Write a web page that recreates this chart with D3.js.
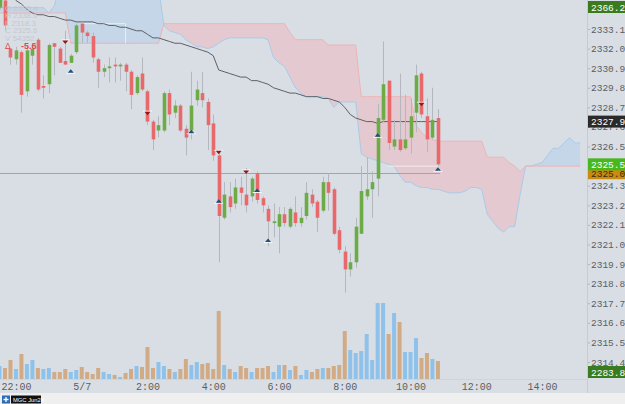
<!DOCTYPE html>
<html><head><meta charset="utf-8">
<script src="https://cdn.jsdelivr.net/npm/d3@7"></script>
<style>html,body{margin:0;padding:0;background:#d9dee5;overflow:hidden}svg{display:block}</style>
</head><body>
<svg id="chart" width="625" height="404"></svg>
<script>
// ---------- DATA ----------
const firstBar = new Date(2024, 4, 6, 21, 30); // 10-minute bars
const barMinutes = 10;
const candleOpen = [2334.3,2334.7,2332.0,2331.4,2331.8,2329.6,2331.6,2332.5,2329.9,2330.0,
  2332.3,2332.0,2331.3,2331.2,2331.8,2333.4,2332.9,2332.7,2331.4,2330.7,
  2330.9,2331.1,2331.0,2331.1,2330.7,2329.5,2330.6,2329.6,2327.9,2327.4,
  2327.4,2329.5,2328.4,2328.8,2327.5,2327.4,2329.1,2329.5,2329.0,2327.8,
  2326.0,2322.5,2323.7,2323.3,2324.2,2323.8,2323.7,2325.0,2323.6,2323.0,
  2322.2,2322.0,2322.7,2322.0,2322.8,2322.2,2322.6,2323.8,2323.4,2322.9,
  2324.5,2324.1,2321.8,2320.6,2319.6,2320.0,2321.6,2323.7,2324.1,2324.7,
  2328.0,2330.2,2326.5,2326.9,2326.4,2327.0,2328.4,2330.6,2328.2,2327.0,2328.1];
const candleHigh = [2335.1,2334.8,2332.0,2332.1,2331.9,2332.1,2332.3,2332.6,2330.5,2332.3,
  2332.3,2332.1,2333.0,2331.7,2333.4,2333.5,2333.0,2332.9,2331.5,2331.1,
  2331.5,2331.5,2331.2,2331.2,2330.8,2330.5,2331.5,2329.7,2328.0,2328.2,
  2329.6,2329.7,2329.1,2328.9,2327.7,2330.7,2330.2,2330.7,2329.2,2328.3,
  2326.3,2324.5,2324.5,2324.7,2324.8,2325.3,2324.8,2325.1,2323.7,2323.2,
  2323.3,2323.1,2323.1,2323.1,2323.7,2323.1,2324.5,2324.1,2323.5,2324.8,
  2325.0,2324.2,2322.0,2320.9,2320.5,2322.5,2325.4,2325.9,2325.1,2328.9,
  2332.4,2330.2,2328.0,2330.6,2329.4,2329.2,2331.1,2330.7,2329.2,2329.8,2328.6];
const candleLow = [2334.2,2333.0,2331.1,2331.1,2328.4,2329.3,2331.1,2329.6,2329.2,2329.5,
  2330.5,2331.2,2331.1,2331.2,2331.7,2332.3,2332.3,2331.2,2329.8,2330.4,
  2330.1,2330.1,2330.2,2329.6,2328.6,2329.4,2329.6,2327.7,2326.3,2327.0,
  2327.3,2327.7,2328.1,2327.3,2326.0,2326.9,2328.8,2328.7,2326.3,2325.7,
  2320.0,2322.4,2322.8,2323.0,2323.2,2322.8,2323.4,2323.3,2322.8,2320.9,
  2321.4,2320.5,2322.0,2321.9,2322.0,2322.0,2322.4,2323.1,2321.7,2322.8,
  2322.9,2321.5,2320.5,2318.3,2319.2,2319.7,2321.6,2323.5,2322.5,2323.7,
  2327.9,2326.3,2326.3,2326.2,2326.3,2326.1,2327.3,2328.1,2326.2,2326.9,2325.4];
const candleClose = [2334.9,2333.3,2331.5,2331.9,2329.4,2331.9,2332.0,2329.7,2329.8,2332.2,
  2332.1,2331.2,2331.1,2331.6,2333.3,2332.9,2332.7,2331.5,2330.7,2330.9,
  2331.0,2331.0,2331.1,2330.7,2329.4,2330.4,2329.7,2327.9,2326.9,2327.7,
  2329.5,2328.3,2328.8,2327.4,2327.0,2328.8,2329.7,2329.1,2327.7,2326.0,
  2322.6,2323.8,2323.1,2324.2,2323.9,2323.2,2324.7,2323.5,2323.2,2322.3,
  2322.3,2322.7,2322.2,2323.0,2322.2,2322.5,2323.9,2323.3,2322.5,2324.5,
  2323.9,2321.6,2320.7,2319.6,2320.0,2322.0,2324.0,2324.1,2324.5,2328.1,
  2330.0,2326.7,2326.9,2326.3,2326.9,2328.2,2330.5,2328.3,2326.9,2328.0,2325.5];
const volume = [130,110,190,100,250,150,190,110,100,110,
  70,70,100,70,90,120,70,50,110,70,
  50,40,20,60,100,130,120,320,110,170,
  130,100,70,100,200,140,170,150,160,100,
  680,140,100,70,130,110,70,110,110,130,
  70,140,140,90,130,40,90,70,100,110,
  110,130,140,480,290,260,280,450,190,760,
  760,450,660,570,270,270,410,210,260,200,180];
const volumeSide = ["b","t","t","b","t","b","b","t","b","b",
  "t","t","t","b","b","t","t","t","t","b",
  "b","t","b","t","t","b","t","t","t","b",
  "b","t","b","t","t","b","b","t","t","t",
  "t","b","t","b","t","t","b","t","t","t",
  "b","b","t","b","t","b","b","t","t","b",
  "t","t","t","t","b","b","b","b","b","b",
  "b","t","b","t","b","b","b","t","t","b","t"];
// Ichimoku leading spans (26 bars ahead -> 107 points)
const leadingSpanA = [2334.3,2334.3,2334.3,2334.3,2334.3,2334.3,2334.3,2334.3,2334.3,2334.0,
  2334.4,2335.5,2335.5,2335.5,2335.5,2335.5,2335.5,2335.5,2335.5,2335.5,
  2335.5,2335.5,2335.5,2335.5,2335.5,2335.5,2335.5,2335.5,2335.5,2335.5,
  2333.3,2333.0,2332.9,2332.8,2332.5,2332.3,2332.1,2332.1,2332.0,2332.1,
  2332.3,2332.5,2332.6,2332.6,2332.6,2332.6,2332.6,2332.6,2332.6,2332.5,
  2331.5,2331.2,2331.0,2330.4,2329.8,2329.5,2329.3,2329.3,2329.3,2329.3,
  2329.2,2328.7,2329.0,2329.0,2329.0,2329.0,2326.1,2325.9,2325.8,2325.7,
  2325.6,2325.5,2325.4,2324.9,2324.5,2324.5,2324.3,2324.2,2324.2,2324.1,
  2324.1,2324.0,2323.9,2323.9,2323.9,2324.0,2324.2,2324.2,2324.1,2322.7,
  2322.3,2321.9,2321.7,2322.0,2322.0,2323.8,2325.4,2325.4,2325.5,2325.6,
  2326.0,2326.4,2326.4,2326.7,2327.0,2326.7,2326.7];
const leadingSpanB = [2334.0,2334.0,2334.0,2334.0,2334.0,2334.0,2334.0,2334.0,2334.0,2334.0,
  2334.0,2334.0,2334.0,2332.3,2332.3,2332.3,2332.3,2332.3,2332.3,2332.3,
  2332.3,2332.3,2332.3,2332.3,2332.3,2332.3,2332.3,2332.3,2332.3,2332.3,
  2333.4,2333.4,2333.4,2333.4,2333.4,2333.4,2333.4,2333.4,2333.4,2333.4,
  2333.4,2333.4,2333.4,2333.4,2333.4,2333.4,2333.4,2333.4,2333.4,2333.4,
  2333.4,2333.4,2333.4,2332.9,2332.5,2332.5,2332.5,2332.5,2332.5,2332.5,
  2332.2,2332.2,2332.2,2332.2,2332.2,2332.2,2329.3,2329.3,2329.3,2329.3,
  2329.3,2329.3,2329.3,2329.3,2329.3,2329.3,2327.7,2327.3,2327.0,2326.9,
  2326.8,2326.8,2326.8,2326.8,2326.8,2326.8,2326.8,2326.8,2326.8,2325.9,
  2325.9,2325.9,2325.9,2325.6,2325.4,2325.1,2325.4,2325.4,2325.4,2325.4,
  2325.4,2325.4,2325.4,2325.4,2325.4,2325.4,2325.4];
const baseLine = [2335.7,2335.4,2335.1,2334.7,2334.5,2334.2,2334.0,2333.9,2333.9,2333.8,
  2333.8,2333.7,2333.6,2333.6,2333.5,2333.5,2333.5,2333.5,2333.4,2333.4,
  2333.3,2333.3,2333.2,2333.2,2333.1,2333.0,2333.0,2332.8,2332.6,2332.6,
  2332.5,2332.4,2332.3,2332.3,2332.2,2332.1,2332.0,2331.9,2331.8,2331.6,
  2330.8,2330.7,2330.6,2330.5,2330.4,2330.4,2330.2,2330.2,2330.1,2330.0,
  2329.8,2329.7,2329.6,2329.5,2329.5,2329.4,2329.3,2329.3,2329.3,2329.2,
  2329.2,2329.1,2329.0,2328.7,2328.3,2328.1,2328.0,2327.9,2327.9,2327.8,
  2327.9,2327.9,2327.9,2327.9,2327.9,2327.9,2327.9,2327.9,2327.9,2327.9,2327.9];
const conversionLine = [null,null,null,null,null,null,null,null,null,null,
  null,null,null,null,null,2333.4,2333.4,2333.4,2333.4,2333.4,
  2333.4,2333.4,2333.4,2332.3,null,null,null,null,null,null,
  null,null,null,null,null,null,null,null,null,null,
  null,null,null,null,null,null,null,null,null,null,
  null,null,null,null,null,null,null,null,null,null,
  null,null,null,null,null,null,null,null,null,null,
  null,2325.4,2325.4,2325.4,2325.4,2325.4,2325.4,2325.4,2325.4,2325.4,2325.4];
const sellSignalBars = [12, 27, 40, 45, 77];
const sellSignalPrices = [2332.4, 2328.4, 2326.2, 2325.1, 2328.9];
const buySignalBars = [13, 35, 40, 47, 49, 69, 80];
const buySignalPrices = [2330.7, 2327.3, 2323.4, 2324.0, 2321.2, 2327.1, 2325.2];
const referencePrice = 2325.0;
const priceTicks = [2333.1,2332.0,2330.9,2329.8,2328.7,2327.6,2326.5,2325.4,2324.3,2323.2,
  2322.1,2321.0,2319.9,2318.8,2317.7,2316.6,2315.5,2314.4];
const timeTickHours = [22, 24, 26, 28, 30, 32, 34, 36, 38];
const timeTickLabels = ["22:00","5/7","2:00","4:00","6:00","8:00","10:00","12:00","14:00"];
const flagValues = [2366.2, 2327.9, 2325.0, 2325.5, 2283.8];
const flagColors = ["#3a7b20", "#2a2a2a", "#c98b10", "#47b81e", "#3a7b20"];
const flagText = ["#ffffff", "#ffffff", "#3a2a10", "#ffffff", "#ffffff"];
const legendLabels = ["O", "H", "L", "C", "V"];
const legendValues = ["2335.4", "2338.6", "2318.3", "2325.6", "54352"];
const changeValue = "-5.6";
const symbolName = "MGC Jun24";

// ---------- SCALES ----------
const svg = d3.select("#chart");
const W = 625, H = 404, axisX = 588, plotBottom = 379;
const tOf = i => new Date(firstBar.getTime() + i * barMinutes * 60000);
const x = d3.scaleTime().domain([tOf(0), tOf(106)]).range([-0.47, 580.4]);
const xi = i => x(tOf(i));
const y = d3.scaleLinear().domain([2314.4, 2333.1]).range([362, 29]);
const yv = d3.scaleLinear().domain([0, 800]).range([plotBottom, 299]);

svg.append("rect").attr("width", W).attr("height", H).attr("fill", "#d9dee5");
const defs = svg.append("defs");
defs.append("clipPath").attr("id", "plot").append("rect")
  .attr("x", 0).attr("y", 0).attr("width", axisX).attr("height", plotBottom);

const cloudIdx = d3.range(leadingSpanA.length);
defs.append("clipPath").attr("id", "aboveB").append("path")
  .attr("d", d3.area().x(i => xi(i)).y0(-500).y1(i => y(leadingSpanB[i]))(cloudIdx));
defs.append("clipPath").attr("id", "belowB").append("path")
  .attr("d", d3.area().x(i => xi(i)).y0(i => y(leadingSpanB[i])).y1(1000)(cloudIdx));

const plot = svg.append("g").attr("clip-path", "url(#plot)");

// Cloud
const band = d3.area().x(i => xi(i)).y0(i => y(leadingSpanA[i])).y1(i => y(leadingSpanB[i]));
plot.append("g").attr("clip-path", "url(#aboveB)").append("path")
  .attr("d", band(cloudIdx)).attr("fill", "#c4d6e7");
plot.append("g").attr("clip-path", "url(#belowB)").append("path")
  .attr("d", band(cloudIdx)).attr("fill", "#e4cad0");
plot.append("path").attr("d", d3.line().x(i => xi(i)).y(i => y(leadingSpanA[i]))(cloudIdx))
  .attr("fill", "none").attr("stroke", "#a9cbe8").attr("stroke-width", 1);
plot.append("path").attr("d", d3.line().x(i => xi(i)).y(i => y(leadingSpanB[i]))(cloudIdx))
  .attr("fill", "none").attr("stroke", "#eeb3b5").attr("stroke-width", 1);

const barIdx = d3.range(candleOpen.length);

// reference price line
plot.append("line").attr("x1", 0).attr("x2", xi(barIdx.length - 1) + 2)
  .attr("y1", Math.round(y(referencePrice)) + 0.5).attr("y2", Math.round(y(referencePrice)) + 0.5)
  .attr("stroke", "#b9a470").attr("stroke-width", 1);

// conversion line (light)
plot.append("path")
  .attr("d", d3.line().defined(i => conversionLine[i] !== null).curve(d3.curveStepAfter)
    .x(i => xi(i)).y(i => y(conversionLine[i]))(barIdx))
  .attr("fill", "none").attr("stroke", "#f3f5f8").attr("stroke-width", 1).attr("opacity", 0.8);

// base line
plot.append("path").attr("d", d3.line().x(i => xi(i)).y(i => y(baseLine[i]))(barIdx))
  .attr("fill", "none").attr("stroke", "#5c6066").attr("stroke-width", 1);

// volume
plot.selectAll(".vol").data(barIdx).join("rect")
  .attr("x", i => xi(i) - 2).attr("width", 4)
  .attr("y", i => yv(volume[i])).attr("height", i => plotBottom - yv(volume[i]))
  .attr("fill", i => volumeSide[i] === "b" ? "#8fc2ea" : "#d0ab86");

// candles
const up = "#6cab45", down = "#e8696c";
plot.selectAll(".wick").data(barIdx).join("line")
  .attr("x1", i => Math.round(xi(i)) + 0.5).attr("x2", i => Math.round(xi(i)) + 0.5)
  .attr("y1", i => y(candleHigh[i])).attr("y2", i => y(candleLow[i]))
  .attr("stroke", "#b3b8bf").attr("stroke-width", 1);
plot.selectAll(".body").data(barIdx).join("rect")
  .attr("x", i => Math.round(xi(i)) - 1.3).attr("width", 3.6)
  .attr("y", i => y(Math.max(candleOpen[i], candleClose[i])))
  .attr("height", i => Math.max(1, Math.abs(y(candleOpen[i]) - y(candleClose[i]))))
  .attr("fill", i => candleClose[i] >= candleOpen[i] ? up : down);

// signal markers
sellSignalBars.forEach((b, k) => {
  const cx = xi(b), cy = y(sellSignalPrices[k]);
  plot.append("line").attr("x1", cx - 4.5).attr("x2", cx + 4.5).attr("y1", cy - 1.5).attr("y2", cy - 1.5)
    .attr("stroke", "#ffffff").attr("stroke-width", 1).attr("opacity", 0.9);
  plot.append("path").attr("d", `M${cx - 3},${cy - 1}L${cx + 3},${cy - 1}L${cx},${cy + 2.5}Z`)
    .attr("fill", "#8e1b1b");
});
buySignalBars.forEach((b, k) => {
  const cx = xi(b), cy = y(buySignalPrices[k]);
  plot.append("line").attr("x1", cx - 4.5).attr("x2", cx + 4.5).attr("y1", cy + 1.5).attr("y2", cy + 1.5)
    .attr("stroke", "#ffffff").attr("stroke-width", 1).attr("opacity", 0.9);
  plot.append("path").attr("d", `M${cx - 3},${cy + 1}L${cx + 3},${cy + 1}L${cx},${cy - 2.5}Z`)
    .attr("fill", "#1f4f7d");
});

// separators
svg.append("line").attr("x1", axisX - 0.5).attr("x2", axisX - 0.5).attr("y1", 0).attr("y2", 393)
  .attr("stroke", "#c6cbd2");
svg.append("line").attr("x1", 0).attr("x2", axisX).attr("y1", plotBottom + 0.5).attr("y2", plotBottom + 0.5)
  .attr("stroke", "#cfd4da");

// price axis
const yAxis = d3.axisRight(y).tickValues(priceTicks).tickFormat(d3.format(".1f")).tickSize(2).tickPadding(1);
const ya = svg.append("g").attr("transform", `translate(${axisX},0)`).call(yAxis);
ya.select(".domain").remove();
ya.selectAll("line").attr("stroke", "#b0b5bc");
ya.selectAll("text").attr("fill", "#5a5e64").attr("font-family", "Liberation Mono, monospace")
  .attr("font-size", "9.5px");

// time axis
const timeTicks = timeTickHours.map(h => new Date(2024, 4, 6, h, 0));
const xAxis = d3.axisBottom(x).tickValues(timeTicks)
  .tickFormat((d, k) => timeTickLabels[k]).tickSize(0).tickPadding(4);
const xa = svg.append("g").attr("transform", `translate(0,${plotBottom})`).call(xAxis);
xa.select(".domain").remove();
xa.selectAll("text").attr("fill", "#5a5e64").attr("font-family", "Liberation Mono, monospace")
  .attr("font-size", "10px");

// price flags
flagValues.forEach((v, k) => {
  const cy = Math.max(7, Math.min(372, y(v)));
  svg.append("rect").attr("x", axisX).attr("y", cy - 6).attr("width", W - axisX).attr("height", 12)
    .attr("fill", flagColors[k]);
  svg.append("text").attr("x", axisX + 3).attr("y", cy + 3.5).text(d3.format(".1f")(v))
    .attr("fill", flagText[k]).attr("font-family", "Liberation Mono, monospace").attr("font-size", "9.5px");
});

// legend
const lg = svg.append("g").attr("font-family", "Liberation Sans, Arial, sans-serif").attr("font-size", "8px");
legendLabels.forEach((l, k) => {
  lg.append("text").attr("x", 5).attr("y", 10.5 + k * 7.5).text(l + " " + legendValues[k])
    .attr("fill", "#c3c9d0");
});
lg.append("text").attr("x", 5).attr("y", 49).text("Δ").attr("fill", "#e0474c").attr("font-size", "8.5px");
lg.append("text").attr("x", 21).attr("y", 49).text(changeValue).attr("fill", "#e0474c")
  .attr("font-size", "9px").attr("font-weight", "bold");

// bottom strip
svg.append("rect").attr("x", 0).attr("y", 393).attr("width", W).attr("height", 11).attr("fill", "#efefef");
svg.append("rect").attr("x", 2).attr("y", 395.5).attr("width", 8).attr("height", 8).attr("fill", "#2b6cb6");
svg.append("path").attr("d", "M6,397V402M3.5,399.5H8.5").attr("stroke", "#fff").attr("stroke-width", 1.3);
svg.append("rect").attr("x", 11).attr("y", 395.5).attr("width", 30).attr("height", 8).attr("fill", "#111");
svg.append("text").attr("x", 13).attr("y", 402).text(symbolName).attr("fill", "#fff")
  .attr("font-family", "Liberation Sans, Arial, sans-serif").attr("font-size", "5.8px");
</script>
</body></html>
